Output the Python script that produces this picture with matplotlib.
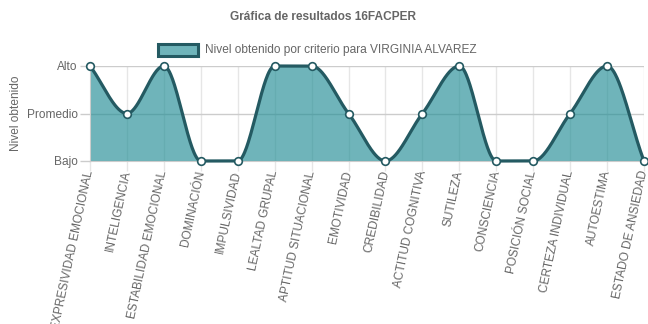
import numpy as np
import matplotlib
matplotlib.use("Agg")
import matplotlib.pyplot as plt
from matplotlib.patches import Rectangle

categories = ["EXPRESIVIDAD EMOCIONAL", "INTELIGENCIA", "ESTABILIDAD EMOCIONAL",
              "DOMINACIÓN", "IMPULSIVIDAD", "LEALTAD GRUPAL", "APTITUD SITUACIONAL",
              "EMOTIVIDAD", "CREDIBILIDAD", "ACTITUD COGNITIVA", "SUTILEZA",
              "CONSCIENCIA", "POSICIÓN SOCIAL", "CERTEZA INDIVIDUAL", "AUTOESTIMA",
              "ESTADO DE ANSIEDAD"]
values = [3, 2, 3, 1, 1, 3, 3, 2, 1, 2, 3, 1, 1, 2, 3, 1]
level_values = [1, 2, 3]
level_labels = ["Bajo", "Promedio", "Alto"]
series_label = "Nivel obtenido por criterio para VIRGINIA ALVAREZ"
title = "Gráfica de resultados 16FACPER"
y_title = "Nivel obtenido"

plt.rcParams['font.family'] = ['Liberation Sans', 'DejaVu Sans']
FS = 8.6

x = np.arange(len(values), dtype=float)
y = np.array(values, dtype=float)

# monotone cubic (Fritsch-Carlson, as in Chart.js)
n = len(y)
d = np.diff(y) / np.diff(x)
m = np.zeros(n)
for i in range(n):
    if i == 0:
        m[i] = d[0]
    elif i == n - 1:
        m[i] = d[-1]
    elif np.sign(d[i - 1]) != np.sign(d[i]):
        m[i] = 0
    else:
        m[i] = (d[i - 1] + d[i]) / 2
for i in range(n - 1):
    if abs(d[i]) < 1e-12:
        m[i] = m[i + 1] = 0
        continue
    a = m[i] / d[i]
    b = m[i + 1] / d[i]
    s = a * a + b * b
    if s <= 9:
        continue
    tau = 3 / np.sqrt(s)
    m[i] = a * tau * d[i]
    m[i + 1] = b * tau * d[i]

xs, ys = [], []
for i in range(n - 1):
    h = x[i + 1] - x[i]
    t = np.linspace(0, 1, 60)
    h00 = 2 * t**3 - 3 * t**2 + 1
    h10 = t**3 - 2 * t**2 + t
    h01 = -2 * t**3 + 3 * t**2
    h11 = t**3 - t**2
    seg = h00 * y[i] + h10 * h * m[i] + h01 * y[i + 1] + h11 * h * m[i + 1]
    xs.append(x[i] + t * h)
    ys.append(seg)
xs = np.concatenate(xs)
ys = np.concatenate(ys)

fig = plt.figure(figsize=(6.48, 3.24), dpi=100)
ax = fig.add_axes([90 / 648, 1 - 161 / 324, (644 - 90) / 648, (161 - 66) / 324])

fill_rgb = (36 / 255, 142 / 255, 150 / 255)
fill_alpha = 0.66
line_color = '#245a62'

ax.fill_between(xs, ys, 1, color=fill_rgb, alpha=fill_alpha, lw=0, zorder=2)
ax.plot(xs, ys, color=line_color, lw=2.3, zorder=3, clip_on=False, solid_capstyle='round')
ax.plot(x, y, 'o', ms=5.5, mfc='white', mec=line_color, mew=1.2, zorder=4, clip_on=False)

ax.set_xlim(x[0], x[-1])
ax.set_ylim(1, 3)
ax.set_yticks(level_values)
ax.set_yticklabels(level_labels)
ax.set_xticks(x)
ax.set_xticklabels(categories, rotation=78, ha='right', va='center', rotation_mode='anchor')
ax.xaxis.grid(True, color='#e6e6e6', lw=1, zorder=0)
ax.yaxis.grid(True, color='#cccccc', lw=1, zorder=0)
ax.set_axisbelow(True)
for s in ['top', 'right']:
    ax.spines[s].set_visible(False)
for s in ['left', 'bottom']:
    ax.spines[s].set_color('#cccccc')
ax.tick_params(axis='x', colors='#e6e6e6', labelcolor='#666666', labelsize=FS, length=7, width=1, pad=0)
ax.tick_params(axis='y', colors='#cccccc', labelcolor='#666666', labelsize=FS, length=7, width=1, pad=2)

ax.set_ylabel(y_title, color='#666666', fontsize=FS)
ax.yaxis.set_label_coords(-0.122, 0.5)

fig.text(323 / 648, 1 - 17 / 324, title, ha='center', va='center', fontsize=FS,
         fontweight='bold', color='#666666')

# legend
box = Rectangle((158 / 648, 1 - 56 / 324), 40 / 648, 12 / 324, transform=fig.transFigure,
                facecolor=fill_rgb + (fill_alpha,), edgecolor=line_color, lw=2.2)
fig.patches.append(box)
fig.text(205 / 648, 1 - 49.5 / 324, series_label, ha='left', va='center', fontsize=FS,
         color='#666666')

fig.savefig("out.png", dpi=100)
